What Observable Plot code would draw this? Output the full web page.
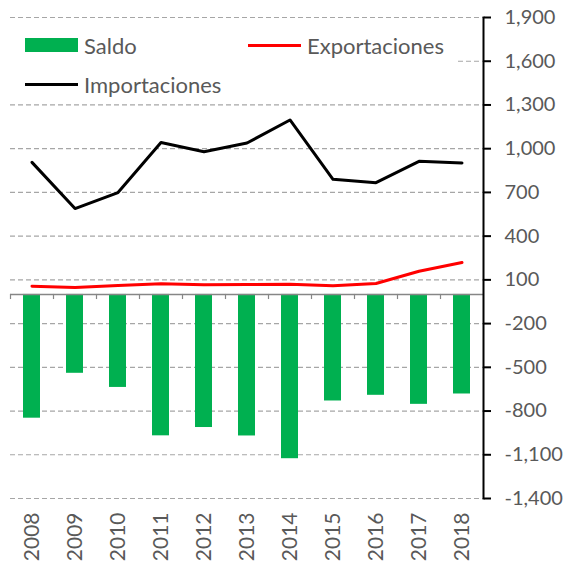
<!DOCTYPE html>
<html><head><meta charset="utf-8">
<script src="https://cdn.jsdelivr.net/npm/d3@7"></script>
<script src="https://cdn.jsdelivr.net/npm/@observablehq/plot@0.6"></script>
<style>
body{margin:0;background:#fff;}
#wrap{position:relative;width:568px;height:562px;font-family:Lato,"Noto Sans",sans-serif;}
#legend{position:absolute;left:10px;top:25px;width:445px;height:73px;background:#fff;color:#595959;font-size:22px;}
.item{position:absolute;display:flex;align-items:center;height:24px;}
.sw{display:inline-block;width:53px;margin-right:6px;}
</style></head><body><div id="wrap"></div>
<script>
const years = ["2008","2009","2010","2011","2012","2013","2014","2015","2016","2017","2018"];
const saldo = [-849,-541,-638,-970,-913,-971,-1127,-731,-692,-754,-683];
const exportaciones = [57,48,61,73,66,68,70,59,75,159,219];
const importaciones = [906,589,699,1043,979,1039,1197,790,767,913,902];
const yTicks = [-1400,-1100,-800,-500,-200,100,400,700,1000,1300,1600,1900];
const seriesNames = ["Saldo","Exportaciones","Importaciones"];
const colors = {Saldo:"#00B050", Exportaciones:"#FF0000", Importaciones:"#000000"};

const rows = years.map((y,i)=>({year:y, saldo:saldo[i], exp:exportaciones[i], imp:importaciones[i]}));
const W=568, H=562, mL=10, mR=85, mT=17, mB=64;
const step = (W - mL - mR) / years.length;
const fmt = d => d3.format(",")(d).replace("\u2212", "-");

const chart = Plot.plot({
  width:W, height:H, marginLeft:mL, marginRight:mR, marginTop:mT, marginBottom:mB,
  style:{fontFamily:"Lato, 'Noto Sans', sans-serif", fontSize:"22px", color:"#595959", background:"#fff", overflow:"visible"},
  x:{domain:years, paddingInner:0.6, paddingOuter:0.3, axis:null},
  y:{domain:[-1400,1900], axis:null},
  marks:[
    Plot.gridY(yTicks, {stroke:"#a6a6a6", strokeOpacity:1, strokeDasharray:"5,3", strokeWidth:1.2}),
    Plot.barY(rows, {x:"year", y:"saldo", fill:colors.Saldo}),
    Plot.ruleY([0], {stroke:"#868686", strokeWidth:1.5}),
    Plot.ruleX(years, {x:d=>d, y1:0, y2:-35, dx:-step/2, stroke:"#868686", strokeWidth:1.2}),
    Plot.lineY(rows, {x:"year", y:"imp", stroke:colors.Importaciones, strokeWidth:3}),
    Plot.lineY(rows, {x:"year", y:"exp", stroke:colors.Exportaciones, strokeWidth:3}),
    Plot.axisY(yTicks, {anchor:"right", tickFormat:fmt, tickSize:7, tickPadding:14, stroke:"#000", strokeWidth:2, fill:"#595959", textAnchor:"start", label:null, fontSize:20}),
    Plot.axisX(years, {anchor:"bottom", tickSize:0, tickRotate:-90, tickPadding:14, fill:"#595959", label:null, fontSize:21}),
    Plot.frame({anchor:"right", stroke:"#000", strokeWidth:2})
  ]
});
const wrap = document.getElementById("wrap");
wrap.appendChild(chart);

const legend = document.createElement("div");
legend.id = "legend";
const pos = {Saldo:[15,8], Exportaciones:[238,8], Importaciones:[15,47]};
for (const name of seriesNames) {
  const it = document.createElement("div");
  it.className = "item";
  it.style.left = pos[name][0] + "px";
  it.style.top = pos[name][1] + "px";
  const sw = document.createElement("span");
  sw.className = "sw";
  if (name === "Saldo") { sw.style.height = "14px"; sw.style.background = colors[name]; }
  else { sw.style.height = "3px"; sw.style.background = colors[name]; }
  const tx = document.createElement("span");
  tx.textContent = name;
  it.appendChild(sw); it.appendChild(tx);
  legend.appendChild(it);
}
wrap.appendChild(legend);
</script></body></html>
